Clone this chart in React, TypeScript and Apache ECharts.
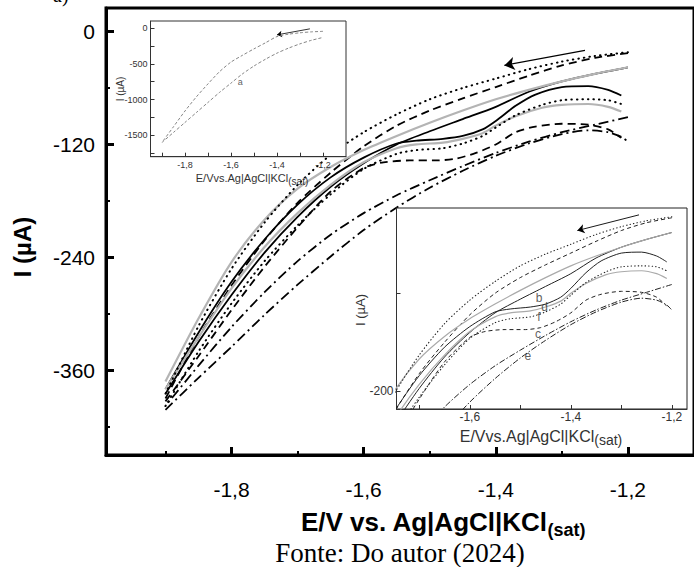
import { useEffect, useRef } from 'react';
import * as echarts from 'echarts';

// ---------- axis ticks ----------
const xMajor = [-1.8, -1.6, -1.4, -1.2];
const xMinor = [-1.9, -1.7, -1.5, -1.3, -1.1];
const yMajor = [0, -120, -240, -360];
const yMinor = [-60, -180, -300, -420];

const inset1XTicks = [-1.9, -1.8, -1.7, -1.6, -1.5, -1.4, -1.3, -1.2];
const inset1XLabels = [-1.8, -1.6, -1.4, -1.2];
const inset1YTicks = [0, -250, -500, -750, -1000, -1250, -1500, -1750];
const inset1YLabels = [0, -500, -1000, -1500];

const inset2XTicks = [-1.7, -1.6, -1.5, -1.4, -1.3, -1.2];
const inset2XLabels = [-1.6, -1.4, -1.2];
const inset2YTicks = [-200, -100];
const inset2YLabels = [-200];

// ---------- voltammograms (E / V, I / µA) ----------
const bForward = [[-1.20,-38],[-1.25,-45],[-1.30,-53],[-1.35,-64],[-1.40,-80],[-1.45,-93],[-1.50,-106],[-1.55,-120],[-1.60,-140],[-1.65,-165],[-1.70,-197],[-1.75,-235],[-1.80,-280],[-1.85,-330],[-1.90,-385]];
const bReverse = [[-1.90,-380],[-1.85,-320],[-1.80,-266],[-1.75,-221],[-1.70,-184],[-1.65,-155],[-1.60,-134],[-1.55,-119],[-1.52,-116],[-1.48,-114],[-1.45,-111],[-1.42,-104],[-1.40,-95],[-1.37,-79],[-1.34,-67],[-1.30,-59],[-1.26,-58],[-1.23,-62],[-1.21,-68]];

const dForward = [[-1.20,-38],[-1.25,-45],[-1.30,-53],[-1.35,-62],[-1.40,-72],[-1.45,-84],[-1.50,-97],[-1.55,-111],[-1.60,-126],[-1.65,-144],[-1.70,-167],[-1.75,-200],[-1.80,-245],[-1.85,-305],[-1.90,-372]];
const dReverse = [[-1.90,-380],[-1.85,-325],[-1.80,-273],[-1.75,-229],[-1.70,-193],[-1.65,-163],[-1.60,-139],[-1.55,-124],[-1.52,-120],[-1.48,-118],[-1.45,-114],[-1.42,-108],[-1.40,-100],[-1.37,-90],[-1.33,-81],[-1.30,-78],[-1.26,-77],[-1.23,-80],[-1.21,-85]];

const fForward = [[-1.20,-22],[-1.25,-26],[-1.30,-32],[-1.35,-40],[-1.40,-50],[-1.45,-60],[-1.50,-72],[-1.55,-88],[-1.60,-107],[-1.65,-131],[-1.70,-163],[-1.75,-203],[-1.80,-252],[-1.85,-313],[-1.90,-385]];
const fReverse = [[-1.90,-398],[-1.85,-340],[-1.80,-289],[-1.75,-244],[-1.70,-206],[-1.65,-173],[-1.60,-146],[-1.55,-130],[-1.52,-126],[-1.48,-124],[-1.45,-119],[-1.42,-111],[-1.40,-102],[-1.37,-89],[-1.33,-78],[-1.30,-73],[-1.26,-72],[-1.23,-73],[-1.21,-77]];

const cForward = [[-1.20,-23],[-1.25,-28],[-1.30,-36],[-1.35,-47],[-1.40,-59],[-1.45,-71],[-1.50,-84],[-1.55,-100],[-1.60,-122],[-1.65,-150],[-1.70,-182],[-1.75,-222],[-1.80,-270],[-1.85,-325],[-1.90,-390]];
const cReverse = [[-1.90,-393],[-1.85,-345],[-1.80,-296],[-1.75,-250],[-1.70,-208],[-1.65,-170],[-1.60,-145],[-1.57,-139],[-1.53,-137],[-1.49,-137],[-1.46,-135],[-1.43,-129],[-1.40,-120],[-1.37,-107],[-1.34,-101],[-1.30,-98],[-1.26,-99],[-1.23,-104],[-1.21,-113]];

const eForward = [[-1.20,-91],[-1.25,-99],[-1.30,-107],[-1.35,-117],[-1.40,-129],[-1.45,-143],[-1.50,-158],[-1.55,-174],[-1.60,-193],[-1.65,-216],[-1.70,-244],[-1.75,-277],[-1.80,-314],[-1.85,-355],[-1.90,-398]];
const eReverse = [[-1.90,-402],[-1.85,-368],[-1.80,-335],[-1.75,-301],[-1.70,-269],[-1.65,-239],[-1.60,-211],[-1.55,-187],[-1.50,-166],[-1.45,-148],[-1.40,-132],[-1.35,-119],[-1.30,-109],[-1.26,-105],[-1.23,-107],[-1.21,-112],[-1.20,-117]];

const aForward = [[-1.20,-45],[-1.25,-52],[-1.30,-65],[-1.35,-85],[-1.40,-118],[-1.45,-205],[-1.50,-290],[-1.55,-380],[-1.60,-475],[-1.65,-610],[-1.70,-780],[-1.75,-960],[-1.80,-1160],[-1.85,-1380],[-1.90,-1600]];
const aReverse = [[-1.90,-1600],[-1.85,-1460],[-1.80,-1320],[-1.75,-1180],[-1.70,-1040],[-1.65,-900],[-1.60,-770],[-1.55,-640],[-1.50,-530],[-1.45,-435],[-1.40,-350],[-1.35,-280],[-1.30,-220],[-1.25,-170],[-1.20,-130]];

// scan direction arrows (start, tip)
const scanArrow = [[-1.265, -20], [-1.387, -36]];
const scanArrowA = [[-1.257, -10], [-1.40, -94]];

// curve labels
const inset2Labels = [
  { name: 'b', value: [-1.463, -105] },
  { name: 'd', value: [-1.452, -114] },
  { name: 'f', value: [-1.463, -124] },
  { name: 'c', value: [-1.465, -141] },
  { name: 'e', value: [-1.485, -164] },
];
const inset1Labels = [{ name: 'a', value: [-1.56, -756] }];

const SANS = '"Liberation Sans", Arial, Helvetica, sans-serif';
const SERIF = '"Liberation Serif", "Times New Roman", serif';
const fmtComma = (v: number) => v.toFixed(1).replace('.', ',');
const fmtInt = (v: number) => String(Math.round(v));

type St = { color: string; width: number; type: any; cap?: string };
const mainStyle: Record<string, St> = {
  b: { color: '#000', width: 1.8, type: 'solid' },
  c: { color: '#000', width: 1.8, type: [8, 5] },
  d: { color: '#b4b4b4', width: 2.2, type: 'solid' },
  e: { color: '#000', width: 1.8, type: [10, 4, 2, 4] },
  f: { color: '#000', width: 2, type: [0.5, 5], cap: 'round' },
};
const insetStyle: Record<string, St> = {
  b: { color: '#222', width: 1, type: 'solid' },
  c: { color: '#222', width: 1, type: [4, 3] },
  d: { color: '#aaa', width: 1.2, type: 'solid' },
  e: { color: '#222', width: 1, type: [6, 2, 1.5, 2] },
  f: { color: '#222', width: 1.1, type: [0.5, 3], cap: 'round' },
};

const branches: [string, number[][]][] = [
  ['b', bForward], ['b', bReverse],
  ['c', cForward], ['c', cReverse],
  ['d', dForward], ['d', dReverse],
  ['e', eForward], ['e', eReverse],
  ['f', fForward], ['f', fReverse],
];

function lineSeries(data: number[][], st: St, xi: number, yi: number, z: number, extra: any = {}) {
  return {
    type: 'line',
    data,
    xAxisIndex: xi,
    yAxisIndex: yi,
    showSymbol: false,
    symbol: 'none',
    smooth: 0.25,
    silent: true,
    clip: true,
    z,
    lineStyle: { color: st.color, width: st.width, type: st.type, cap: st.cap || 'butt', join: 'round' },
    ...extra,
  };
}

function arrowMark(pts: number[][], width: number, size: number) {
  return {
    markLine: {
      silent: true,
      animation: false,
      symbol: ['none', 'arrow'],
      symbolSize: size,
      label: { show: false },
      lineStyle: { color: '#000', width, type: 'solid' },
      data: [[{ coord: pts[0] }, { coord: pts[1] }]],
    },
  };
}

function buildOption(): any {
  const series: any[] = [];
  branches.forEach(([k, d], i) => {
    series.push(lineSeries(d, mainStyle[k], 0, 0, 2, i === 0 ? arrowMark(scanArrow, 1.2, 10) : {}));
  });
  branches.forEach(([k, d], i) => {
    series.push(lineSeries(d, insetStyle[k], 3, 3, 8, i === 0 ? arrowMark(scanArrow, 0.9, 7) : {}));
  });
  const aSt: St = { color: '#777', width: 0.9, type: [3, 2] };
  series.push(lineSeries(aForward, aSt, 2, 2, 8, arrowMark(scanArrowA, 0.8, 5)));
  series.push(lineSeries(aReverse, aSt, 2, 2, 8));
  series.push({
    type: 'scatter', xAxisIndex: 3, yAxisIndex: 3, z: 9, silent: true,
    symbolSize: 0, data: inset2Labels,
    label: { show: true, position: 'inside', formatter: '{b}', fontSize: 12, color: '#333', fontFamily: SANS },
  });
  series.push({
    type: 'scatter', xAxisIndex: 2, yAxisIndex: 2, z: 9, silent: true,
    symbolSize: 0, data: inset1Labels,
    label: { show: true, position: 'inside', formatter: '{b}', fontSize: 9, color: '#333', fontFamily: SANS },
  });

  const insetAxis = (grid: number, min: number, max: number, ticks: number[], labels: number[], fs: number, margin: number, fmt: any, pos: string) => ({
    type: 'value', gridIndex: grid, min, max, z: 7, position: pos,
    axisLine: { show: true, onZero: false, lineStyle: { color: '#333', width: 1 } },
    axisTick: { show: true, inside: true, length: 4, customValues: ticks, lineStyle: { color: '#333', width: 1 } },
    axisLabel: { show: true, customValues: labels, fontSize: fs, color: '#333', margin, fontFamily: SANS, formatter: fmt },
    splitLine: { show: false },
  });

  return {
    animation: false,
    backgroundColor: '#fff',
    grid: [
      { left: 106, top: 8, width: 599, height: 447, show: true, borderColor: '#000', borderWidth: 3, backgroundColor: 'transparent', z: 0 },
      { left: 150.5, top: 21, width: 195.5, height: 135.7, show: true, borderColor: '#333', borderWidth: 1, backgroundColor: '#fff', z: 3 },
      { left: 396.5, top: 208, width: 290.5, height: 201, show: true, borderColor: '#222', borderWidth: 1, backgroundColor: '#fff', z: 3 },
    ],
    xAxis: [
      {
        type: 'value', gridIndex: 0, min: -1.99, max: -1.1, position: 'bottom',
        axisLine: { show: true, onZero: false, lineStyle: { color: '#000', width: 3 } },
        axisTick: { show: true, inside: true, length: 8, customValues: xMajor, lineStyle: { color: '#000', width: 3 } },
        axisLabel: { show: true, customValues: xMajor, formatter: fmtComma, fontSize: 21, color: '#000', margin: 24, fontFamily: SANS },
        splitLine: { show: false },
      },
      {
        type: 'value', gridIndex: 0, min: -1.99, max: -1.1, position: 'bottom',
        axisLine: { show: false, onZero: false },
        axisTick: { show: true, inside: true, length: 4, customValues: xMinor, lineStyle: { color: '#000', width: 2 } },
        axisLabel: { show: false },
        splitLine: { show: false },
      },
      insetAxis(1, -1.95, -1.1, inset1XTicks, inset1XLabels, 9, 4, fmtComma, 'bottom'),
      insetAxis(2, -1.745, -1.17, inset2XTicks, inset2XLabels, 12, 2, fmtComma, 'bottom'),
    ],
    yAxis: [
      {
        type: 'value', gridIndex: 0, min: -450, max: 25, position: 'left',
        axisLine: { show: true, onZero: false, lineStyle: { color: '#000', width: 3 } },
        axisTick: { show: true, inside: true, length: 8, customValues: yMajor, lineStyle: { color: '#000', width: 3 } },
        axisLabel: { show: true, customValues: yMajor, fontSize: 21, color: '#000', margin: 11, fontFamily: SANS, formatter: fmtInt },
        splitLine: { show: false },
      },
      {
        type: 'value', gridIndex: 0, min: -450, max: 25, position: 'left',
        axisLine: { show: false, onZero: false },
        axisTick: { show: true, inside: true, length: 4, customValues: yMinor, lineStyle: { color: '#000', width: 2 } },
        axisLabel: { show: false },
        splitLine: { show: false },
      },
      insetAxis(1, -1800, 100, inset1YTicks, inset1YLabels, 9, 3, fmtInt, 'left'),
      insetAxis(2, -218, -13, inset2YTicks, inset2YLabels, 12, 3, fmtInt, 'left'),
    ],
    series,
    graphic: [
      {
        type: 'text', x: 53, y: 5, z: 20,
        style: { text: 'a)', font: `20px ${SERIF}`, fill: '#000', align: 'left', verticalAlign: 'bottom' },
      },
      {
        type: 'text', x: 22, y: 247, rotation: Math.PI / 2, z: 20,
        style: { text: 'I (µA)', font: `bold 24px ${SANS}`, fill: '#000', align: 'center', verticalAlign: 'middle' },
      },
      {
        type: 'text', x: 443, y: 522, z: 20,
        style: {
          text: '{m|E/V vs. Ag|AgCl|KCl}{s|(sat)}',
          align: 'center', verticalAlign: 'middle',
          rich: {
            m: { font: `bold 26px ${SANS}`, fill: '#000' },
            s: { font: `bold 18px ${SANS}`, fill: '#000', padding: [16, 0, 0, 0] },
          },
        },
      },
      {
        type: 'text', x: 400, y: 553, z: 20,
        style: { text: 'Fonte: Do autor (2024)', font: `27px ${SERIF}`, fill: '#000', align: 'center', verticalAlign: 'middle' },
      },
      {
        type: 'text', x: 120, y: 89, rotation: Math.PI / 2, z: 20,
        style: { text: 'I (µA)', font: `10px ${SANS}`, fill: '#333', align: 'center', verticalAlign: 'middle' },
      },
      {
        type: 'text', x: 252, y: 178, z: 20,
        style: {
          text: '{m|E/Vvs.Ag|AgCl|KCl}{s|(sat)}',
          align: 'center', verticalAlign: 'middle',
          rich: {
            m: { font: `11px ${SANS}`, fill: '#333' },
            s: { font: `10px ${SANS}`, fill: '#333', padding: [6, 0, 0, 0] },
          },
        },
      },
      {
        type: 'text', x: 360, y: 310, rotation: Math.PI / 2, z: 20,
        style: { text: 'I (µA)', font: `13px ${SANS}`, fill: '#333', align: 'center', verticalAlign: 'middle' },
      },
      {
        type: 'text', x: 541, y: 436, z: 20,
        style: {
          text: '{m|E/Vvs.Ag|AgCl|KCl}{s|(sat)}',
          align: 'center', verticalAlign: 'middle',
          rich: {
            m: { font: `16px ${SANS}`, fill: '#333' },
            s: { font: `14px ${SANS}`, fill: '#333', padding: [8, 0, 0, 0] },
          },
        },
      },
    ],
  };
}

export default function App() {
  const ref = useRef<HTMLDivElement>(null);
  useEffect(() => {
    document.body.style.margin = '0';
    const chart = echarts.init(ref.current!, null, { renderer: 'svg' });
    chart.setOption(buildOption());
    return () => chart.dispose();
  }, []);
  return <div ref={ref} style={{ width: 694, height: 567, background: '#fff' }} />;
}
